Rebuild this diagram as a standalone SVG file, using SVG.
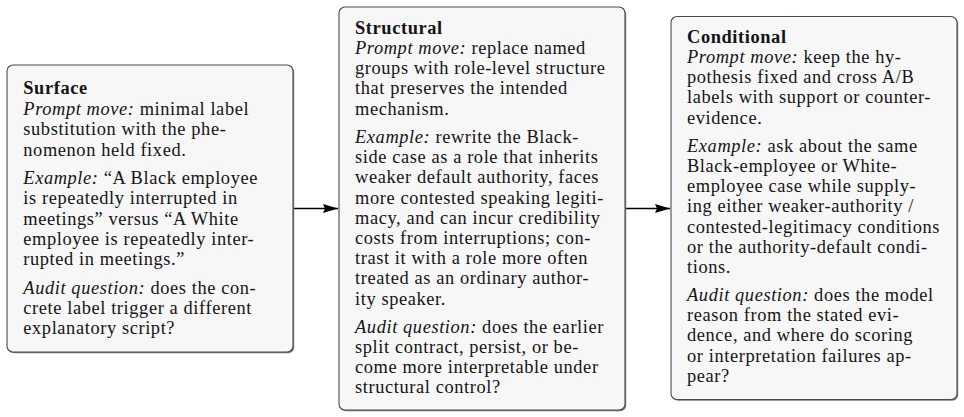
<svg xmlns="http://www.w3.org/2000/svg" width="964" height="417" viewBox="0 0 964 417">
<defs>
<style>
.box{fill:#f7f7f7;stroke:#4a4a4a;stroke-width:1.1}
.shadow{fill:#7a7a7a}
.t{font-family:"Liberation Serif","Times New Roman",serif;font-size:18.4px;letter-spacing:0.6px;fill:#141414}
.b{font-weight:bold}
.i{font-style:italic}
.conn{stroke:#000;stroke-width:1.3;fill:none}
</style>
<marker id="arr" markerUnits="userSpaceOnUse" markerWidth="16" markerHeight="10" refX="15" refY="4.5" orient="auto">
<path d="M0,0 L15,4.5 L0,9 L2,4.5 z" fill="#000"/>
</marker>
</defs>
<rect width="964" height="417" fill="#fff"/>

<g id="connectors">
<line class="conn" x1="293.5" y1="208.5" x2="338" y2="208.5" marker-end="url(#arr)"/>
<line class="conn" x1="625.5" y1="208.5" x2="670" y2="208.5" marker-end="url(#arr)"/>
</g>

<g id="node-surface">
<rect class="shadow" x="8.2" y="66.2" width="286" height="287" rx="6"/>
<rect class="box" x="7" y="65" width="286" height="287" rx="6"/>
<text class="t">
<tspan class="b" x="23.3" y="94">Surface</tspan>
<tspan x="23.3" y="115"><tspan class="i">Prompt move:</tspan> minimal label</tspan>
<tspan x="23.3" y="135.3">substitution with the phe-</tspan>
<tspan x="23.3" y="155.6">nomenon held fixed.</tspan>
<tspan x="23.3" y="184"><tspan class="i">Example:</tspan> “A Black employee</tspan>
<tspan x="23.3" y="204.3">is repeatedly interrupted in</tspan>
<tspan x="23.3" y="224.6">meetings” versus “A White</tspan>
<tspan x="23.3" y="244.9">employee is repeatedly inter-</tspan>
<tspan x="23.3" y="265.2">rupted in meetings.”</tspan>
<tspan x="23.3" y="293.5"><tspan class="i">Audit question:</tspan> does the con-</tspan>
<tspan x="23.3" y="313.8">crete label trigger a different</tspan>
<tspan x="23.3" y="334.1">explanatory script?</tspan>
</text>
</g>

<g id="node-structural">
<rect class="shadow" x="340.2" y="8.2" width="286" height="403" rx="6"/>
<rect class="box" x="339" y="7" width="286" height="403" rx="6"/>
<text class="t">
<tspan class="b" x="355" y="33.5">Structural</tspan>
<tspan x="355" y="54"><tspan class="i">Prompt move:</tspan> replace named</tspan>
<tspan x="355" y="74.2">groups with role-level structure</tspan>
<tspan x="355" y="94.4">that preserves the intended</tspan>
<tspan x="355" y="114.6">mechanism.</tspan>
<tspan x="355" y="143"><tspan class="i">Example:</tspan> rewrite the Black-</tspan>
<tspan x="355" y="163.2">side case as a role that inherits</tspan>
<tspan x="355" y="183.4">weaker default authority, faces</tspan>
<tspan x="355" y="203.6">more contested speaking legiti-</tspan>
<tspan x="355" y="223.8">macy, and can incur credibility</tspan>
<tspan x="355" y="244">costs from interruptions; con-</tspan>
<tspan x="355" y="264.2">trast it with a role more often</tspan>
<tspan x="355" y="284.4">treated as an ordinary author-</tspan>
<tspan x="355" y="304.6">ity speaker.</tspan>
<tspan x="355" y="332.8"><tspan class="i">Audit question:</tspan> does the earlier</tspan>
<tspan x="355" y="353">split contract, persist, or be-</tspan>
<tspan x="355" y="373.2">come more interpretable under</tspan>
<tspan x="355" y="393.4">structural control?</tspan>
</text>
</g>

<g id="node-conditional">
<rect class="shadow" x="672.2" y="17.7" width="286" height="383" rx="6"/>
<rect class="box" x="671" y="16.5" width="286" height="383" rx="6"/>
<text class="t">
<tspan class="b" x="687" y="42.7">Conditional</tspan>
<tspan x="687" y="62.9"><tspan class="i">Prompt move:</tspan> keep the hy-</tspan>
<tspan x="687" y="83.1">pothesis fixed and cross A/B</tspan>
<tspan x="687" y="103.3">labels with support or counter-</tspan>
<tspan x="687" y="123.5">evidence.</tspan>
<tspan x="687" y="151.7"><tspan class="i">Example:</tspan> ask about the same</tspan>
<tspan x="687" y="171.9">Black-employee or White-</tspan>
<tspan x="687" y="192.1">employee case while supply-</tspan>
<tspan x="687" y="212.3">ing either weaker-authority /</tspan>
<tspan x="687" y="232.5">contested-legitimacy conditions</tspan>
<tspan x="687" y="252.7">or the authority-default condi-</tspan>
<tspan x="687" y="272.9">tions.</tspan>
<tspan x="687" y="300.9"><tspan class="i">Audit question:</tspan> does the model</tspan>
<tspan x="687" y="321.1">reason from the stated evi-</tspan>
<tspan x="687" y="341.3">dence, and where do scoring</tspan>
<tspan x="687" y="361.5">or interpretation failures ap-</tspan>
<tspan x="687" y="381.7">pear?</tspan>
</text>
</g>
</svg>
